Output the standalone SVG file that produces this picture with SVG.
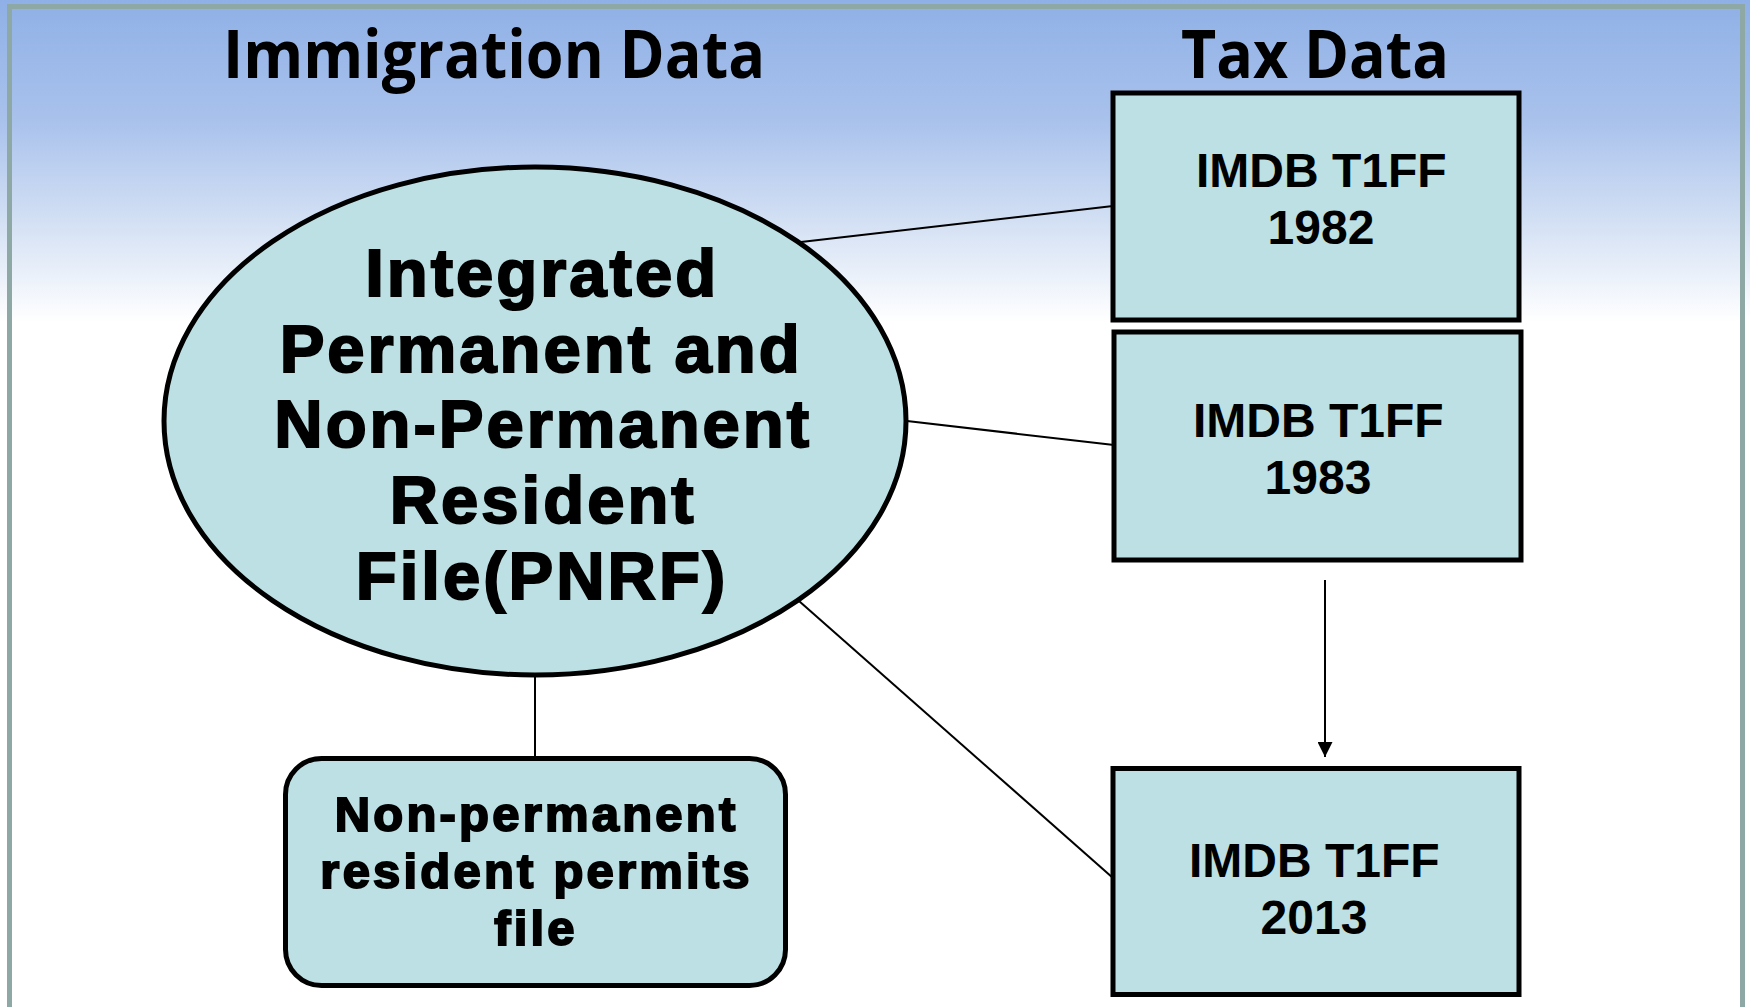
<svg xmlns="http://www.w3.org/2000/svg" width="1750" height="1007" viewBox="0 0 1750 1007">
  <defs>
    <linearGradient id="bg" x1="0" y1="0" x2="0" y2="1007" gradientUnits="userSpaceOnUse">
      <stop offset="0" stop-color="#8fb0e6"/>
      <stop offset="0.12" stop-color="#a9c2ec"/>
      <stop offset="0.22" stop-color="#d3e0f4"/>
      <stop offset="0.32" stop-color="#ffffff"/>
      <stop offset="1" stop-color="#ffffff"/>
    </linearGradient>
    <marker id="arrow" viewBox="0 0 10 10" refX="10" refY="5" markerWidth="15" markerHeight="15" markerUnits="userSpaceOnUse" orient="auto">
      <path d="M0,0 L10,5 L0,10 Z" fill="#000"/>
    </marker>
    <style>
      .shape { fill: #bce0e3; stroke: #000; stroke-width: 5; }
      .title { font-family: "Open Sans", "Liberation Sans", sans-serif; font-weight: bold; font-size: 66px; fill: #000; text-anchor: middle; }
      .boxtxt { font-family: "Liberation Sans", Arial, sans-serif; font-weight: bold; font-size: 48px; fill: #000; text-anchor: middle; }
      .heavy { font-family: "Liberation Sans", Arial, sans-serif; font-weight: bold; fill: #000; stroke: #000; stroke-width: 2; text-anchor: middle; }
      .conn { stroke: #000; stroke-width: 2; fill: none; }
    </style>
  </defs>

  <rect x="0" y="0" width="1750" height="1007" fill="url(#bg)"/>
  <rect x="9.5" y="6.5" width="1733" height="1010" fill="none" stroke="#8ea8a6" stroke-width="5"/>

  <g id="titles">
    <text class="title" x="494" y="78" textLength="542" lengthAdjust="spacingAndGlyphs">Immigration Data</text>
    <text class="title" x="1315" y="78" textLength="268" lengthAdjust="spacingAndGlyphs">Tax Data</text>
  </g>

  <g id="connectors">
    <line class="conn" x1="801" y1="242" x2="1113" y2="206"/>
    <line class="conn" x1="907" y1="421" x2="1114" y2="445"/>
    <line class="conn" x1="799" y1="601" x2="1113" y2="878"/>
    <line class="conn" x1="535" y1="675" x2="535" y2="758"/>
    <line class="conn" x1="1325" y1="580" x2="1325" y2="757" stroke-width="2.5" marker-end="url(#arrow)"/>
  </g>

  <g id="pnrf">
    <ellipse class="shape" cx="535" cy="421" rx="371" ry="254"/>
    <text class="heavy" font-size="67" letter-spacing="3">
      <tspan x="553" y="296">Integrated</tspan>
      <tspan x="552" y="372">Permanent and</tspan>
      <tspan x="554" y="447">Non-Permanent</tspan>
      <tspan x="554" y="523">Resident</tspan>
      <tspan x="542" y="599">File(PNRF)</tspan>
    </text>
  </g>

  <g id="permits">
    <rect class="shape" x="285.5" y="758.5" width="500" height="227" rx="36" ry="36"/>
    <text class="heavy" font-size="49" letter-spacing="3.2" stroke-width="1.5">
      <tspan x="545" y="831">Non-permanent</tspan>
      <tspan x="545" y="888">resident permits</tspan>
      <tspan x="536" y="945">file</tspan>
    </text>
  </g>

  <g id="t1ff1982">
    <rect class="shape" x="1113" y="93" width="406" height="227"/>
    <text class="boxtxt">
      <tspan x="1328" y="187">IMDB T1FF</tspan>
      <tspan x="1321" y="244">1982</tspan>
    </text>
  </g>

  <g id="t1ff1983">
    <rect class="shape" x="1114" y="332" width="407" height="228"/>
    <text class="boxtxt">
      <tspan x="1325" y="437">IMDB T1FF</tspan>
      <tspan x="1318" y="494">1983</tspan>
    </text>
  </g>

  <g id="t1ff2013">
    <rect class="shape" x="1113" y="768.5" width="406" height="226"/>
    <text class="boxtxt">
      <tspan x="1321" y="877">IMDB T1FF</tspan>
      <tspan x="1314" y="934">2013</tspan>
    </text>
  </g>
</svg>
